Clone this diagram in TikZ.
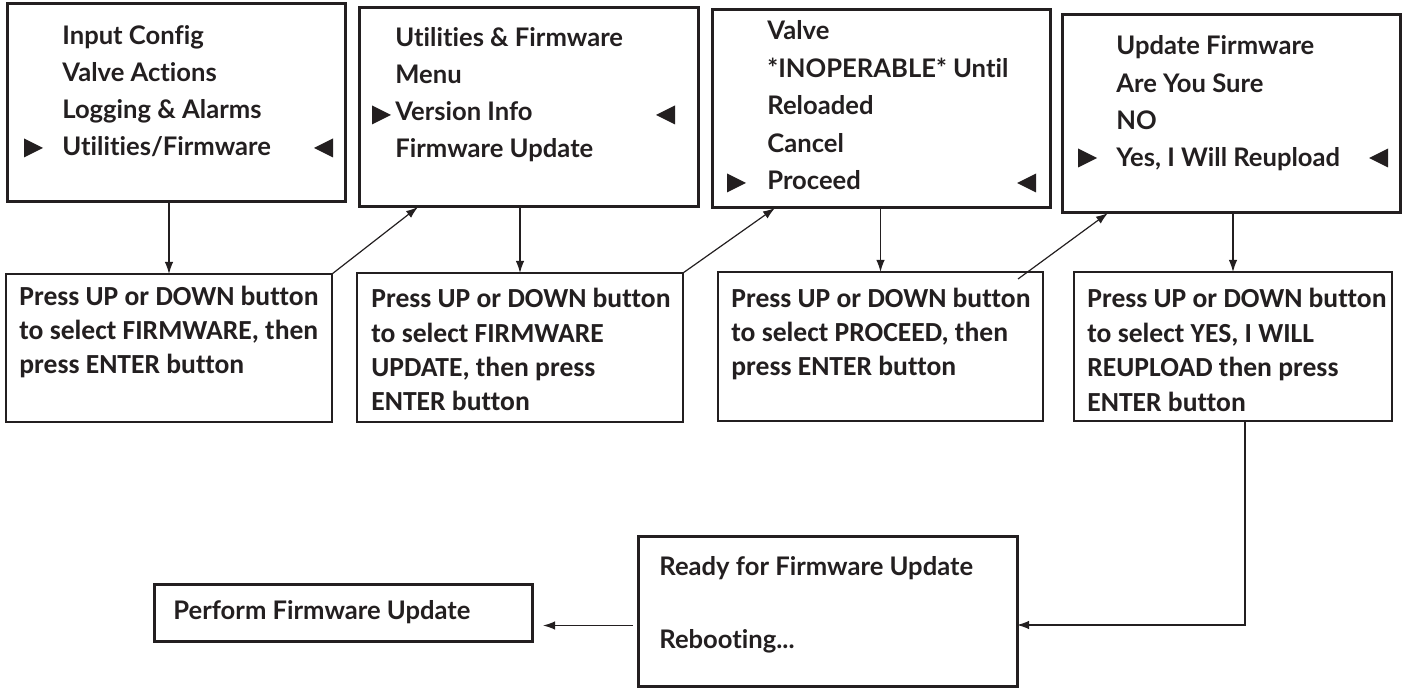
\documentclass[tikz,border=0pt]{standalone}
\usepackage{fontspec}
\usetikzlibrary{arrows.meta,calc}
\newfontfamily\fwScreenFont{Lato}[Ligatures={NoCommon}]
\newfontfamily\fwNoteFont{Carlito}[Ligatures={NoCommon}]
\definecolor{fwInk}{HTML}{231F20}
\tikzset{
  fw screen/.style={draw=fwInk, line width=1.5pt, inner sep=0pt, outer sep=0pt, anchor=north west},
  fw note/.style={draw=fwInk, line width=0.6pt, inner sep=0pt, outer sep=0pt, anchor=north west},
  fw screen text/.style={anchor=base west, inner sep=0pt, text=fwInk, font=\fwScreenFont\bfseries\fontsize{12.8}{15}\selectfont},
  fw note text/.style={anchor=base west, inner sep=0pt, text=fwInk, font=\fwNoteFont\bfseries\fontsize{13.8}{16}\selectfont},
  fw link/.style={draw=fwInk, line width=0.6pt, -{Latex[length=6pt, width=4.2pt]}},
}
% cursor marks beside the selected menu line
\newcommand{\fwRight}[2]{\fill[fwInk] (#1,#2-9.5) -- ++(19,9.5) -- ++(-19,9.5) -- cycle;}
\newcommand{\fwLeft}[2]{\fill[fwInk] (#1,#2-9.5) -- ++(-19,9.5) -- ++(19,9.5) -- cycle;}

\begin{document}
\begin{tikzpicture}[x=0.5pt, y=-0.5pt]
  \useasboundingbox (0,0) rectangle (1404,689);

  % Display screens
  \node[fw screen, minimum width=169pt, minimum height=99pt] (scrA) at (7,4) {};
  \node[fw screen, minimum width=169.5pt, minimum height=99.5pt] (scrB) at (359,8) {};
  \node[fw screen, minimum width=169pt, minimum height=99pt] (scrC) at (712,10) {};
  \node[fw screen, minimum width=169pt, minimum height=99pt] (scrD) at (1062,15) {};

  \foreach \t [count=\i from 0] in {Input Config, Valve Actions, Logging \& Alarms, Utilities/Firmware}
    \node[fw screen text] (scrA-\i) at ([shift={(55,41+37*\i)}]scrA.north west) {\t};
  \foreach \t [count=\i from 0] in {Utilities \& Firmware, Menu, Version Info, Firmware Update}
    \node[fw screen text] (scrB-\i) at ([shift={(36,39+37*\i)}]scrB.north west) {\t};
  \foreach \t [count=\i from 0] in {Valve, *INOPERABLE* Until, Reloaded, Cancel, Proceed}
    \node[fw screen text] (scrC-\i) at ([shift={(55,30+37.5*\i)}]scrC.north west) {\t};
  \foreach \t [count=\i from 0] in {Update Firmware, Are You Sure, NO, {Yes, I Will Reupload}}
    \node[fw screen text] (scrD-\i) at ([shift={(54,40+37.3*\i)}]scrD.north west) {\t};

  \fwRight{24}{148}  \fwLeft{333}{148}
  \fwRight{372}{115} \fwLeft{675}{115}
  \fwRight{727}{183} \fwLeft{1036}{183}
  \fwRight{1078}{158} \fwLeft{1388}{158}

  % Instruction boxes
  \node[fw note, minimum width=163pt, minimum height=74pt] (instA) at (6,274) {};
  \node[fw note, minimum width=163pt, minimum height=74.5pt] (instB) at (357,273) {};
  \node[fw note, minimum width=162.5pt, minimum height=74.5pt] (instC) at (718,272) {};
  \node[fw note, minimum width=159pt, minimum height=74.5pt] (instD) at (1074,272) {};

  \foreach \t [count=\i from 0] in {Press UP or DOWN button, {to select FIRMWARE, then}, press ENTER button}
    \node[fw note text] (instA-\i) at ([shift={(13,32+34*\i)}]instA.north west) {\t};
  \foreach \t [count=\i from 0] in {Press UP or DOWN button, to select FIRMWARE, {UPDATE, then press}, ENTER button}
    \node[fw note text] (instB-\i) at ([shift={(14,35+34.3*\i)}]instB.north west) {\t};
  \foreach \t [count=\i from 0] in {Press UP or DOWN button, {to select PROCEED, then}, press ENTER button}
    \node[fw note text] (instC-\i) at ([shift={(13,36+34*\i)}]instC.north west) {\t};
  \foreach \t [count=\i from 0] in {Press UP or DOWN button, {to select YES, I WILL}, REUPLOAD then press, ENTER button}
    \node[fw note text] (instD-\i) at ([shift={(13,36+34.5*\i)}]instD.north west) {\t};

  % Final steps
  \node[fw screen, minimum width=189.5pt, minimum height=74.5pt] (rdy) at (638,537) {};
  \node[fw screen text] (rdy-0) at ([shift={(21,39)}]rdy.north west) {Ready for Firmware Update};
  \node[fw screen text] (rdy-1) at ([shift={(21,111)}]rdy.north west) {Rebooting...};
  \node[fw screen, minimum width=189pt, minimum height=28.5pt] (perf) at (154,585) {};
  \node[fw screen text] (perf-0) at ([shift={(19,35)}]perf.north west) {Perform Firmware Update};

  % Screen to instruction
  \draw[fw link] (scrA.south -| instA.north) -- (instA.north);
  \draw[fw link] (scrB.south -| instB.north) -- (instB.north);
  \draw[fw link] (scrC.south -| instC.north) -- (instC.north);
  \draw[fw link] (scrD.south -| instD.north) -- (instD.north);

  % Instruction to next screen
  \draw[fw link] (instA.north east) -- ($(scrB.south west)+(59,0)$);
  \draw[fw link] (instB.north east) -- ($(scrC.south west)+(63,0)$);
  \draw[fw link] ($(instC.north east)+(-25,7)$) -- ($(scrD.south west)+(46,0)$);

  % Reboot and update
  \draw[fw link] ([xshift=6pt]instD.south) |- ([yshift=-6.75pt]rdy.east);
  \coordinate (rdyOut) at ([yshift=-7pt]rdy.west);
  \draw[fw link, shorten <=2.5pt, shorten >=5.5pt] (rdyOut) -- (rdyOut -| perf.east);
\end{tikzpicture}
\end{document}
